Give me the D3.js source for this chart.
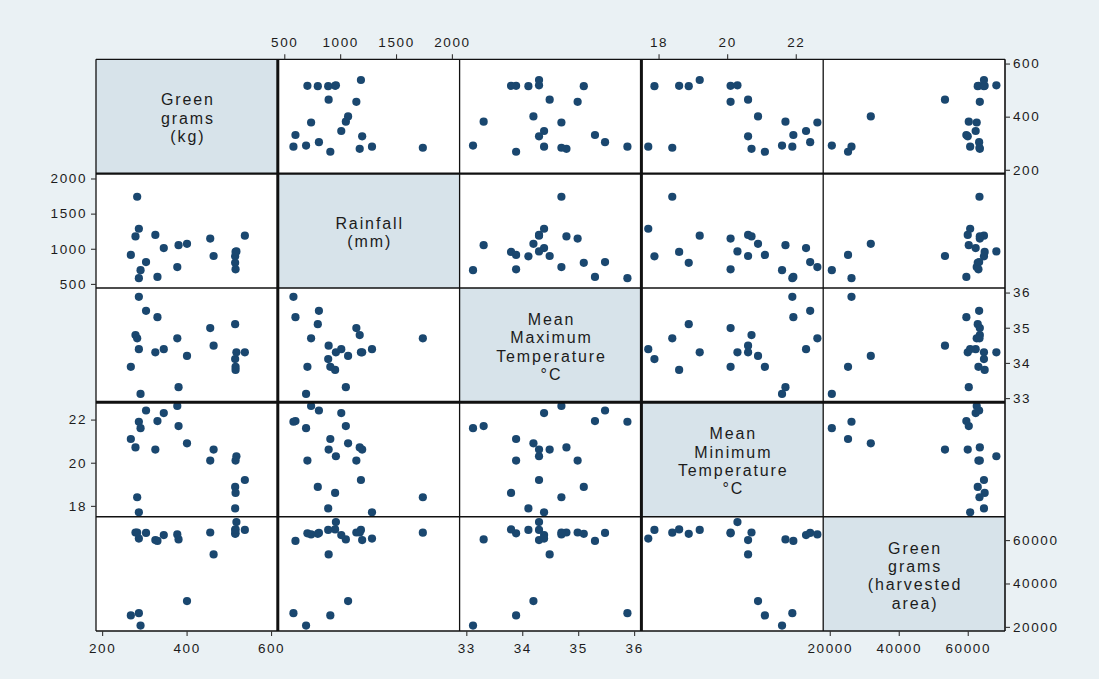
<!DOCTYPE html>
<html>
<head>
<meta charset="utf-8">
<script src="https://cdn.jsdelivr.net/npm/d3@7"></script>
<style>
  html, body { margin: 0; padding: 0; background: #eaf1f4; }
  svg { display: block; }
</style>
</head>
<body>
<svg id="chart" width="1099" height="679"></svg>
<script>
// One entry per observation (21 seasons / sites)
const greenGramsKg  = [516, 515, 515, 518, 516, 538, 464, 456, 401, 381, 378, 346, 331, 326, 287, 291, 304, 268, 279, 287, 283];
const rainfallMm    = [707, 800, 893, 962, 955, 1186, 897, 1145, 1071, 1051, 740, 1010, 600, 1197, 582, 695, 810, 912, 1175, 1285, 1740];
const maxTempC      = [33.89, 35.10, 34.11, 34.30, 33.80, 34.30, 34.49, 34.99, 34.20, 33.31, 34.70, 34.39, 35.30, 34.30, 35.88, 33.12, 35.48, 33.89, 34.79, 34.39, 34.70];
const minTempC      = [20.10, 18.88, 17.88, 20.30, 18.60, 19.20, 20.61, 20.10, 20.90, 21.70, 22.63, 22.30, 21.93, 20.61, 21.90, 21.60, 22.42, 21.10, 20.71, 17.70, 18.40];
const harvestedArea = [63100, 62900, 64700, 68300, 64900, 64700, 53400, 63500, 31900, 60300, 62600, 62300, 59600, 60000, 26300, 20600, 63300, 25300, 63500, 60700, 63400];

// Diagonal labels
const varLabels = [
  ["Green", "grams", "(kg)"],
  ["Rainfall", "(mm)"],
  ["Mean", "Maximum", "Temperature", "°C"],
  ["Mean", "Minimum", "Temperature", "°C"],
  ["Green", "grams", "(harvested", "area)"]
];

// Tick values per variable
const ticksGreenGrams = [200, 400, 600];
const ticksRainfall   = [500, 1000, 1500, 2000];
const ticksMaxTemp    = [33, 34, 35, 36];
const ticksMinTemp    = [18, 20, 22];
const ticksArea       = [20000, 40000, 60000];

const series = [greenGramsKg, rainfallMm, maxTempC, minTempC, harvestedArea];
const ticks  = [ticksGreenGrams, ticksRainfall, ticksMaxTemp, ticksMinTemp, ticksArea];
const domains = [[185.5, 616], [442, 2069], [32.88, 36.13], [17.5, 22.8], [18100, 70800]];

// Layout
const n = series.length;
const gridLeft = 96, gridTop = 59.3, cellW = 181.8, cellH = 114.34;
const gridRight = gridLeft + n * cellW, gridBottom = gridTop + n * cellH;
const colSide = ["bottom", "top", "bottom", "top", "bottom"];
const rowSide = ["right", "left", "right", "left", "right"];
const vLineW = [1.3, 3, 1.3, 3, 1.3, 1.6];
const hLineW = [1.3, 2.2, 1.3, 3, 1.5, 1.6];

const navy = "#1a476f";
const ink = "#1c1c1c";
const fontFam = "'Liberation Sans', Arial, Helvetica, sans-serif";

const svg = d3.select("#chart");

svg.append("rect").attr("x", 0).attr("y", 0).attr("width", 1099).attr("height", 679).attr("fill", "#eaf1f4");

const xScales = d3.range(n).map(j => d3.scaleLinear().domain(domains[j]).range([gridLeft + j * cellW, gridLeft + (j + 1) * cellW]));
const yScales = d3.range(n).map(i => d3.scaleLinear().domain(domains[i]).range([gridTop + (i + 1) * cellH, gridTop + i * cellH]));

// Cells
const cells = [];
for (let i = 0; i < n; i++) for (let j = 0; j < n; j++) cells.push({ i, j });

svg.append("g").selectAll("rect").data(cells).join("rect")
  .attr("x", d => gridLeft + d.j * cellW)
  .attr("y", d => gridTop + d.i * cellH)
  .attr("width", cellW)
  .attr("height", cellH)
  .attr("fill", d => d.i === d.j ? "#d7e3ea" : "#ffffff");

// Points
const obs = d3.range(greenGramsKg.length);
cells.filter(c => c.i !== c.j).forEach(c => {
  svg.append("g").selectAll("circle").data(obs).join("circle")
    .attr("cx", k => xScales[c.j](series[c.j][k]))
    .attr("cy", k => yScales[c.i](series[c.i][k]))
    .attr("r", 4.1)
    .attr("fill", navy);
});

// Diagonal labels
d3.range(n).forEach(i => {
  const cx = gridLeft + (i + 0.5) * cellW;
  const cy = gridTop + (i + 0.5) * cellH + 1.5;
  const lines = varLabels[i];
  const lh = 18.3;
  lines.forEach((s, k) => {
    svg.append("text")
      .attr("text-anchor", "middle")
      .attr("font-family", fontFam)
      .attr("font-size", 16)
      .attr("letter-spacing", 1.9)
      .attr("fill", ink)
      .attr("x", cx + 1)
      .attr("y", cy + (k - (lines.length - 1) / 2) * lh)
      .attr("dy", "0.36em")
      .text(s);
  });
});

// Cell borders
const gb = svg.append("g").attr("stroke", "#111").attr("fill", "none");
d3.range(n + 1).forEach(k => {
  gb.append("line")
    .attr("x1", gridLeft + k * cellW).attr("x2", gridLeft + k * cellW)
    .attr("y1", gridTop).attr("y2", gridBottom)
    .attr("stroke-width", vLineW[k]);
  gb.append("line")
    .attr("x1", gridLeft).attr("x2", gridRight)
    .attr("y1", gridTop + k * cellH).attr("y2", gridTop + k * cellH)
    .attr("stroke-width", hLineW[k]);
});

// Axes
const fmt = d3.format("d");
function styleAxis(g) {
  g.select(".domain").remove();
  g.selectAll(".tick line").attr("stroke", "#333").attr("stroke-width", 1.1);
  g.selectAll(".tick text")
    .attr("fill", ink)
    .attr("font-family", fontFam)
    .attr("font-size", 13.5)
    .attr("letter-spacing", 1.6);
}

d3.range(n).forEach(j => {
  const side = colSide[j];
  const axis = (side === "bottom" ? d3.axisBottom(xScales[j]) : d3.axisTop(xScales[j]))
    .tickValues(ticks[j]).tickFormat(fmt).tickSize(5).tickPadding(7);
  svg.append("g")
    .attr("transform", `translate(0,${side === "bottom" ? gridBottom : gridTop})`)
    .call(axis).call(styleAxis);
});

d3.range(n).forEach(i => {
  const side = rowSide[i];
  const axis = (side === "left" ? d3.axisLeft(yScales[i]) : d3.axisRight(yScales[i]))
    .tickValues(ticks[i]).tickFormat(fmt).tickSize(5).tickPadding(side === "left" ? 4 : 3);
  svg.append("g")
    .attr("transform", `translate(${side === "left" ? gridLeft : gridRight},0)`)
    .call(axis).call(styleAxis);
});
</script>
</body>
</html>
